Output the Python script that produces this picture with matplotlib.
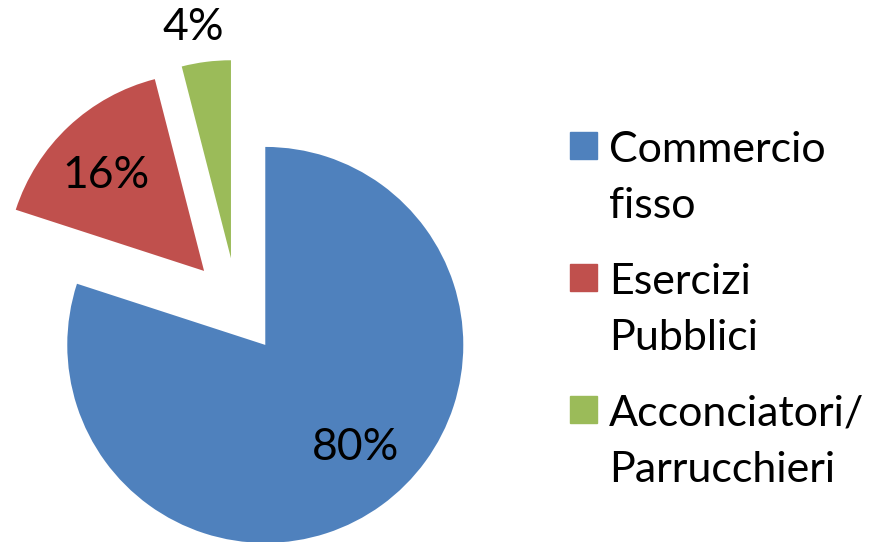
import numpy as np
import matplotlib
matplotlib.use("Agg")
from matplotlib import pyplot as plt
from matplotlib.patches import Rectangle

# dati
categorie = ['Commercio\nfisso', 'Esercizi\nPubblici', 'Acconciatori/\nParrucchieri']
valori = [80, 16, 4]
colori = ['#4F81BD', '#C0504D', '#9BBB59']
esplodi = [0.243, 0.243, 0.243]
# posizione etichette: distanza dal vertice e scarto angolare (gradi)
dist_etich = [0.69, 0.69, 1.18]
scarto_ang = [5.3, 2.7, 2.2]

plt.rcParams['font.family'] = ['Lato', 'DejaVu Sans']

W, H = 873, 542
fig = plt.figure(figsize=(W / 100, H / 100), dpi=100)
ax = fig.add_axes([0, 0, 1, 1])

# centro della torta in pixel e raggio
cx, cy, r = 237, 306, 198

wedges, texts, autotexts = ax.pie(valori, colors=colori, explode=esplodi,
                                  startangle=90, counterclock=False,
                                  autopct='%1.0f%%', pctdistance=0.7,
                                  radius=1, frame=True,
                                  textprops=dict(fontsize=32, color='black'))
ax.set_xlim(-cx / r, (W - cx) / r)
ax.set_ylim(-(H - cy) / r, cy / r)
ax.set_aspect('auto')
ax.axis('off')

# sposta le etichette percentuali
for w, t, e, d, s in zip(wedges, autotexts, esplodi, dist_etich, scarto_ang):
    mid = np.deg2rad((w.theta1 + w.theta2) / 2)
    a = mid + np.deg2rad(s)
    x = e * np.cos(mid) + d * np.cos(a)
    y = e * np.sin(mid) + d * np.sin(a)
    t.set_position((x, y))
    t.set_va('center')
    t.set_ha('center')

# legenda disegnata a mano
for i, (lab, col) in enumerate(zip(categorie, colori)):
    top = 132 + i * 132
    fig.patches.append(Rectangle((570 / W, 1 - (top + 27) / H), 27 / W, 27 / H,
                                 transform=fig.transFigure, color=col))
    for j, riga in enumerate(lab.split('\n')):
        fig.text(609 / W, 1 - (top + 30 + j * 56) / H, riga, fontsize=31,
                 va='baseline', ha='left')

fig.savefig('out.png', dpi=100)
